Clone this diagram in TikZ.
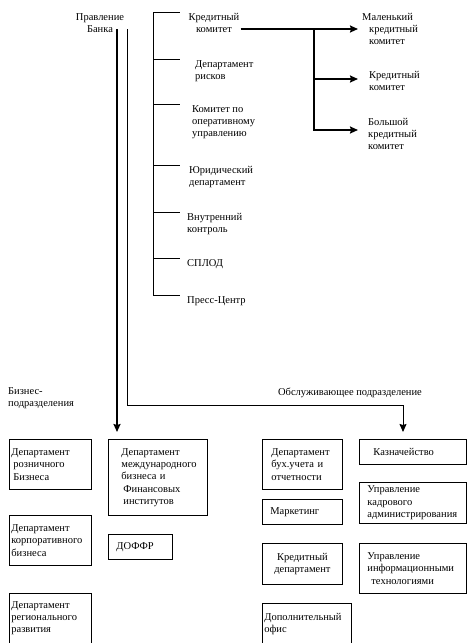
\documentclass[tikz,border=0pt]{standalone}
\usepackage{fontspec}
\setmainfont{Liberation Serif}
\usepackage{tikz}
\usetikzlibrary{positioning}
\usetikzlibrary{calc}
\usetikzlibrary{arrows.meta}

\tikzset{
	unit/.style = {draw, line width = 0.8pt, anchor = north west, align = left, inner ysep = 3pt},
	caption/.style = {align = left, inner sep = 1pt, anchor = north west},
	bigarrow/.style = {line width = 2pt, -{Stealth[length = 8pt, width = 7pt, inset = 1pt]}},
	thinarrow/.style = {line width = 1pt, -{Stealth[length = 8pt, width = 7pt, inset = 1pt]}},
	tick/.style = {line width = 1pt}
}

\begin{document}
\begin{tikzpicture}[x = 1pt, y = -1pt, font = \fontsize{10.5}{12.3}\selectfont]
			\useasboundingbox (0,0) rectangle (467,643);
			\clip (0,0) rectangle (467,643);

			\node[caption, align = center, anchor = north] (board) at (100,12) {Правление\\Банка};

			\node[caption, align = center, anchor = north] (kredkom) at (214,12) {Кредитный\\комитет};
			\node[caption] (riski) at (194,59) {Департамент\\рисков};
			\node[caption] (opcom) at (191,104) {Комитет по\\оперативному\\управлению};
			\node[caption] (legal) at (188,165) {Юридический\\департамент};
			\node[caption] (audit) at (186,212) {Внутренний\\контроль};
			\node[caption] (splod) at (186,258) {СПЛОД};
			\node[caption] (press) at (186,295) {Пресс-Центр};

			\node[caption] (smallkom) at (361,12) {Маленький\\\hspace*{7pt}кредитный\\\hspace*{7pt}комитет};
			\node[caption] (creditkom) at (368,70) {Кредитный\\комитет};
			\node[caption] (bigkom) at (367,117) {Большой\\кредитный\\комитет};

			\node[caption] (bizunits) at (7,386) {Бизнес-\\подразделения};
			\node[caption, anchor = north] (servunits) at (350,387) {Обслуживающее подразделение};

			\node[unit, minimum width = 82pt, minimum height = 50pt, text width = 78pt, inner xsep = 2pt] (retail) at (9,439) {Департамент\\\hspace*{2pt}розничного\\\hspace*{2pt}Бизнеса};
			\node[unit, minimum width = 82pt, minimum height = 50pt, text width = 78pt, inner xsep = 2pt] (corporate) at (9,515) {Департамент\\корпоративного\\бизнеса};
			\node[unit, minimum width = 82pt, text width = 78pt, inner xsep = 2pt, inner ysep = 8pt] (regional) at (9,593) {Департамент\\регионального\\развития\\\mbox{}\\\mbox{}};
			\node[unit, minimum width = 99pt, minimum height = 76pt, text width = 73pt, inner xsep = 13pt] (intl) at (108,439) {Департамент\\международного\\бизнеса и\\\hspace*{2pt}Финансовых\\\hspace*{2pt}институтов};
			\node[unit, minimum width = 64pt, minimum height = 25pt, text width = 48pt, inner xsep = 8pt] (dofr) at (108,534) {ДОФФР};

			\node[unit, minimum width = 80pt, minimum height = 50pt, text width = 62pt, inner xsep = 9pt] (accounting) at (262,439) {Департамент\\бух.учета и\\отчетности};
			\node[unit, minimum width = 80pt, minimum height = 25pt, text width = 64pt, inner xsep = 8pt] (marketing) at (262,499) {Маркетинг};
			\node[unit, align = center, minimum width = 80pt, minimum height = 41pt, text width = 70pt, inner xsep = 5pt] (creditdep) at (262,543) {Кредитный\\департамент};
			\node[unit, minimum width = 89pt, text width = 85pt, inner xsep = 2pt, inner ysep = 10pt] (addoffice) at (262,603) {Дополнительный\\офис\\\mbox{}\\\mbox{}\\\mbox{}};
			\node[unit, minimum width = 107pt, minimum height = 25pt, text width = 79pt, inner xsep = 14pt] (treasury) at (359,439) {Казначейство};
			\node[unit, minimum width = 107pt, minimum height = 41pt, text width = 91pt, inner xsep = 8pt] (hr) at (359,482) {Управление\\кадрового\\администрирования};
			\node[unit, minimum width = 107pt, minimum height = 50pt, text width = 91pt, inner xsep = 8pt] (it) at (359,543) {Управление\\информационными\\\hspace*{4pt}технологиями};

			\coordinate (spine) at (153,12);
			\draw[tick] (spine) -- (spine |- press.north);
			\foreach \n in {kredkom, riski, opcom, legal, audit, splod, press}
				\draw[tick] (spine |- \n.north) -- ++(27,0);

			\coordinate (split) at (314,29);
			\coordinate (tips) at (358,0);
			\draw[bigarrow] (kredkom.east |- split) -- (tips |- split);
			\draw[bigarrow] (split) |- ($(tips |- creditkom.north)+(0,9)$);
			\draw[bigarrow] (split) |- ($(tips |- bigkom.north)+(0,13)$);

			\coordinate (bizline) at (117,29);
			\coordinate (servline) at (127,29);
			\coordinate (servturn) at (403,405);
			\draw[bigarrow, shorten >= 7pt] (bizline) -- (bizline |- intl.north);
			\draw[thinarrow, shorten >= 7pt] (servline) |- (servturn) -- (servturn |- treasury.north);
		\end{tikzpicture}
\end{document}
